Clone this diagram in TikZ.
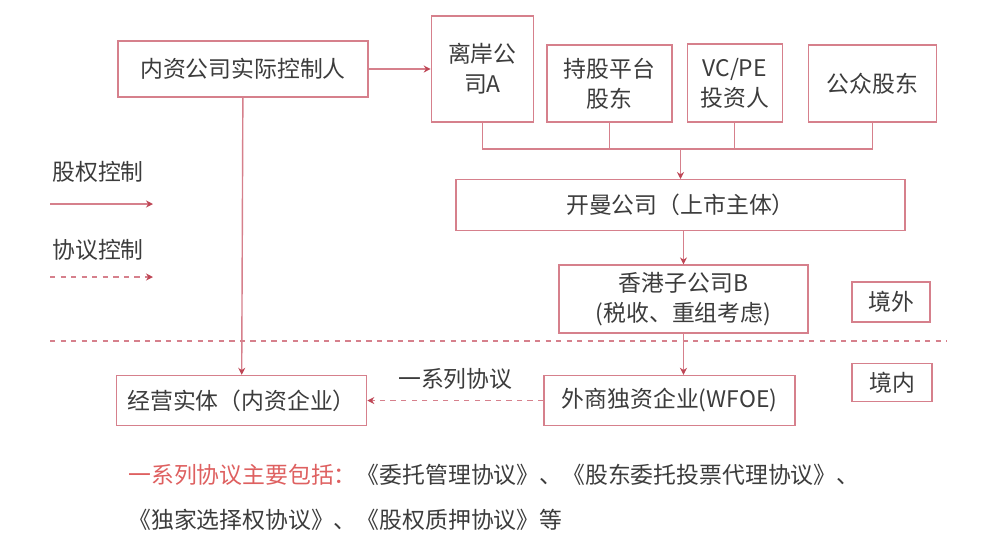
\documentclass[tikz,border=0pt]{standalone}
\usepackage{fontspec}
\setmainfont{Noto Sans CJK SC}
\usetikzlibrary{positioning,arrows.meta}
\definecolor{linered}{RGB}{214,128,140}
\definecolor{tipred}{RGB}{190,70,85}
\definecolor{txtgray}{RGB}{60,60,60}
\definecolor{notered}{RGB}{222,96,96}

\begin{document}
\begin{tikzpicture}[
        entbox/.style={rectangle, draw=linered, fill=white, line width=0.8pt, text=txtgray, align=center, inner sep=2pt, font=\fontsize{13}{17}\selectfont},
        legendtext/.style={inner sep=0pt, text=txtgray, font=\fontsize{13}{17}\selectfont},
        link/.style={draw=linered, line width=0.8pt},
        >={Stealth[length=4pt,width=4pt,color=tipred]},
        node distance=0.6cm
        ]
        \useasboundingbox (0,0) rectangle (20,-11.02);

        \node[entbox, minimum width=5cm, minimum height=1.12cm]       (ctrl) at (4.86,-1.38)                               {内资公司实际控制人};
        \node[entbox, minimum width=2.04cm, minimum height=2.12cm]    (offA) [right=1.24cm of ctrl]                        {离岸公\\司A};
        \node[entbox, minimum width=2.5cm, minimum height=1.54cm]     (plat) [right=0.24cm of offA.south east, anchor=south west] {持股平台\\股东};
        \node[entbox, minimum width=1.9cm, minimum height=1.56cm]     (vcpe) [right=0.28cm of plat.south east, anchor=south west] {VC/PE\\投资人};
        \node[entbox, minimum width=2.56cm, minimum height=1.54cm]    (pub)  [right=0.5cm of vcpe.south east, anchor=south west]  {公众股东};
        \coordinate (bus) at (13.61,-2.98);
        \node[entbox, minimum width=8.98cm, minimum height=1.02cm]    (cay)  [below=0.6cm of bus]                          {开曼公司（上市主体）};
        \node[entbox, minimum width=4.98cm, minimum height=1.36cm]    (hk)   [below=0.66cm of cay, xshift=0.06cm]          {香港子公司B\\(税收、重组考虑)};
        \node[entbox, minimum width=5.02cm, minimum height=1cm]       (wfoe) [below=0.82cm of hk, xshift=-0.28cm]          {外商独资企业(WFOE)};
        \node[entbox, minimum width=5cm, minimum height=1cm]          (ops)  [left=3.52cm of wfoe]                         {经营实体（内资企业）};
        \node[entbox, minimum width=1.56cm, minimum height=0.8cm]     (ovs)  at (17.82,-6.04)                              {境外};
        \node[entbox, minimum width=1.6cm, minimum height=0.76cm]     (dom)  [below=0.8cm of ovs, xshift=0.02cm]           {境内};

        % border between offshore and onshore
        \draw[link, dashed] (1.0,-6.82) -- (18.94,-6.82);

        \draw[link, ->] (ctrl) -- (offA);
        \draw[link, ->] (ctrl) -- (ops);
        \draw[link] (offA.south) |- (bus) -| (pub.south);
        \draw[link] (plat.south) -- (plat.south |- bus);
        \draw[link] (vcpe.south) -- (vcpe.south |- bus);
        \draw[link, ->] (bus) -- (cay);
        \draw[link, ->] (cay.south -| hk.north) -- (hk.north);
        \draw[link, ->] (hk.south) -- (hk.south |- wfoe.north);
        \draw[link, ->, dashed] (wfoe) -- node[legendtext, above=6pt] (agr) {一系列协议} (ops);

        % legend
        \node[legendtext, anchor=west] (eqlbl) at (1.04,-3.44) {股权控制};
        \coordinate (eqS) at (1.0,-4.08);
        \coordinate (eqE) at (3.06,-4.08);
        \draw[link, ->] (eqS) -- (eqE);
        \node[legendtext, anchor=west] (aglbl) at (1.04,-5.0) {协议控制};
        \coordinate (agS) at (1.0,-5.54);
        \coordinate (agE) at (3.06,-5.54);
        \draw[link, ->, dashed] (agS) -- (agE);

        % notes
        \node[legendtext, anchor=west, align=left, font=\fontsize{13}{25.5}\selectfont] (notes) at (2.56,-9.95)
            {{\color{notered}一系列协议主要包括：}《委托管理协议》、《股东委托投票代理协议》、\\《独家选择权协议》、《股权质押协议》等};
\end{tikzpicture}
\end{document}
